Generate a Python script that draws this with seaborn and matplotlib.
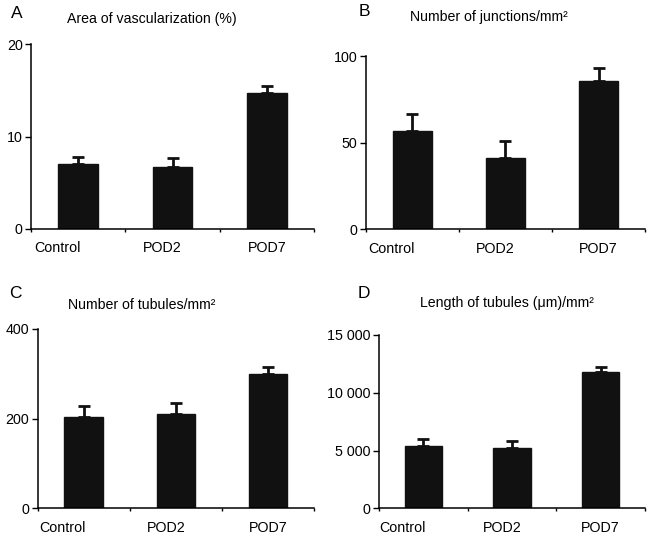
import numpy as np
import pandas as pd
import matplotlib
matplotlib.use("Agg")
import matplotlib.pyplot as plt
import matplotlib.transforms as mtransforms
import seaborn as sns
from matplotlib.ticker import FuncFormatter

groups = ["Control", "POD2", "POD7"]

# panel values (mean) and upper error
area_mean = [7.0, 6.7, 14.75]
area_err = [0.8, 1.0, 0.75]
junc_mean = [56.9, 41.0, 85.6]
junc_err = [9.4, 10.1, 7.6]
tub_mean = [203.7, 210.4, 299.6]
tub_err = [23.8, 25.2, 14.9]
len_mean = [5420, 5245, 11820]
len_err = [550, 555, 435]

panels = [
    ("A", "Area of vascularization (%)", area_mean, area_err, [0, 10, 20], 20),
    ("B", "Number of junctions/mm\u00b2", junc_mean, junc_err, [0, 50, 100], 100),
    ("C", "Number of tubules/mm\u00b2", tub_mean, tub_err, [0, 200, 400], 400),
    ("D", "Length of tubules (\u03bcm)/mm\u00b2", len_mean, len_err, [0, 5000, 10000, 15000], 15000),
]

W, H = 649, 538
# axes boxes in pixels: left, right, top(y at max), bottom(y at 0)
boxes = [(31, 314, 44, 229), (366, 645, 56, 229.3), (37.7, 314, 329, 508.3), (379, 645, 335, 508.3)]
label_pos = [(17, 13), (364, 12), (15, 293), (364, 293)]
title_pos = [(67, 19), (410, 17), (67.7, 305), (420, 303)]
label_shift = [-21, -10, 0]  # x tick labels sit left of the bars in the original

sns.set_theme(style="white")
plt.rcParams["font.family"] = ["Liberation Sans", "DejaVu Sans"]

fig = plt.figure(figsize=(W / 100, H / 100), dpi=100)
fig.patch.set_facecolor("white")

for i, (lab, title, mean, err, ticks, top) in enumerate(panels):
    l, r, t, b = boxes[i]
    ax = fig.add_axes([l / W, 1 - b / H, (r - l) / W, (b - t) / H])
    df = pd.DataFrame({"group": groups, "value": mean})
    sns.barplot(data=df, x="group", y="value", color="#111111", width=0.42,
                saturation=1, errorbar=None, edgecolor="#111111", ax=ax)
    ax.errorbar(groups, mean, yerr=[np.zeros(3), err], fmt="none", ecolor="#111111",
                elinewidth=2, capsize=4, capthick=2)
    ax.set_xlim(-0.5, 2.5)
    ax.set_ylim(0, top)
    ax.set_yticks(ticks)
    if top > 1000:
        ax.yaxis.set_major_formatter(FuncFormatter(lambda v, p: f"{int(v):,}".replace(",", " ")))
    ax.set_xlabel("")
    ax.set_ylabel("")
    ax.spines["top"].set_visible(False)
    ax.spines["right"].set_visible(False)
    for s in ["left", "bottom"]:
        ax.spines[s].set_color("black")
        ax.spines[s].set_linewidth(1.1)
    ax.tick_params(axis="y", which="major", left=True, length=4, width=1, color="black",
                   labelsize=10.3, pad=2, labelcolor="black")
    ax.tick_params(axis="x", which="major", bottom=False, labelsize=10.3, pad=3, labelcolor="black")
    ax.set_xticks([-0.5, 0.5, 1.5, 2.5], minor=True)
    ax.tick_params(axis="x", which="minor", bottom=True, length=2, width=1, color="black")
    for tl, dx in zip(ax.get_xticklabels(), label_shift):
        tl.set_transform(tl.get_transform() + mtransforms.ScaledTranslation(dx / 100, 0, fig.dpi_scale_trans))
    ax.set_facecolor("white")
    ax.grid(False)

    fig.text(label_pos[i][0] / W, 1 - label_pos[i][1] / H, lab, fontsize=12.5,
             ha="center", va="center", color="black")
    fig.text(title_pos[i][0] / W, 1 - title_pos[i][1] / H, title, fontsize=10.2,
             ha="left", va="center", color="black")

fig.savefig("out.png", dpi=100, facecolor="white")
